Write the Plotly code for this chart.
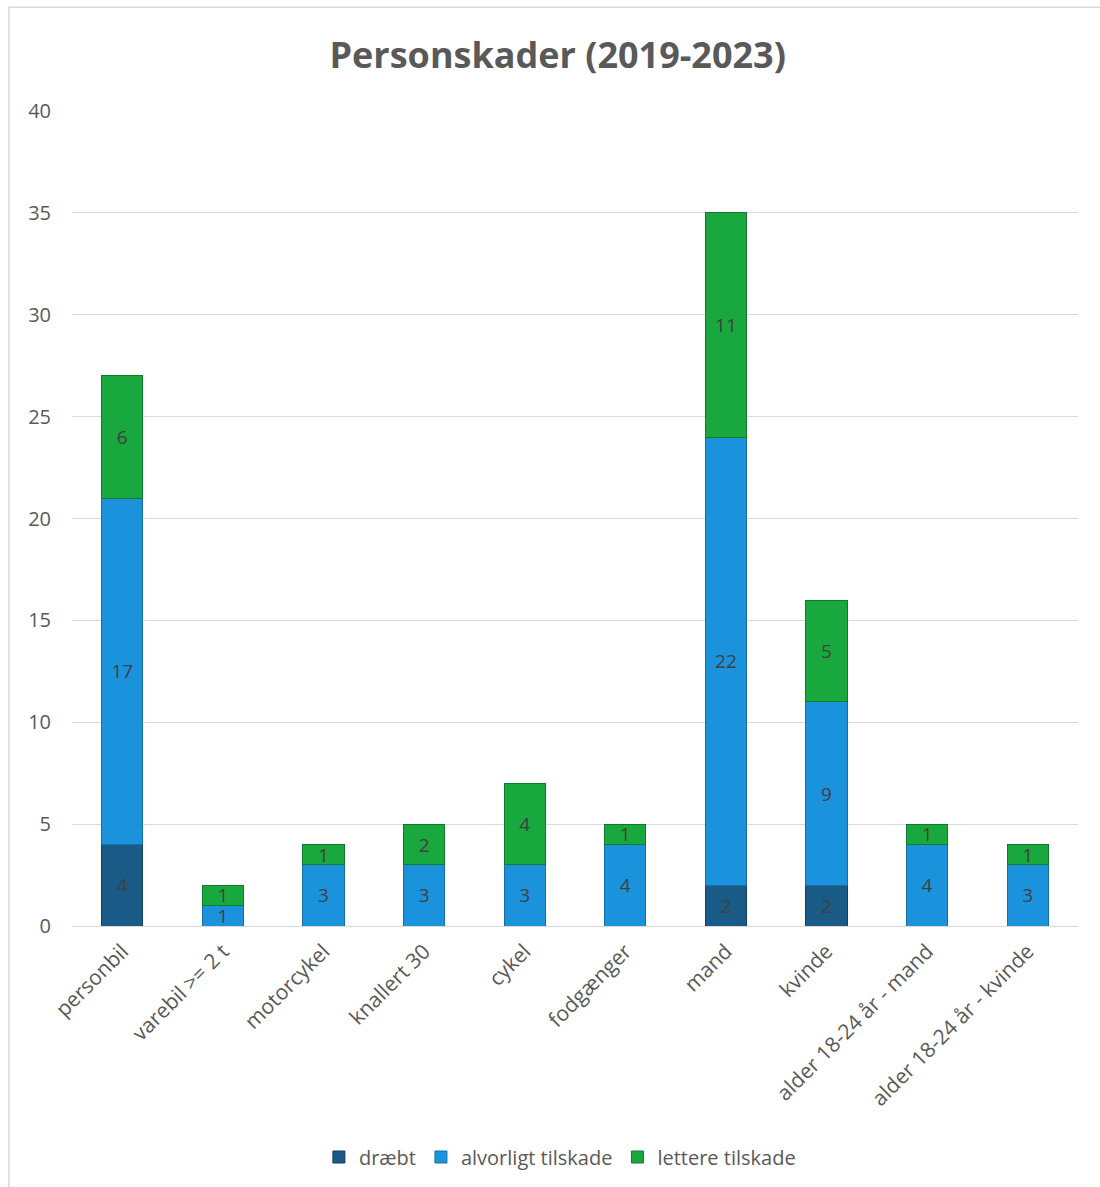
import plotly.graph_objects as go

categories = ["personbil", "varebil >= 2 t", "motorcykel", "knallert 30", "cykel",
              "fodgænger", "mand", "kvinde", "alder 18-24 år - mand", "alder 18-24 år - kvinde"]
draebt = [4, 0, 0, 0, 0, 0, 2, 2, 0, 0]
alvorligt = [17, 1, 3, 3, 3, 4, 22, 9, 4, 3]
lettere = [6, 1, 1, 2, 4, 1, 11, 5, 1, 1]
y_ticks = [0, 5, 10, 15, 20, 25, 30, 35, 40]

FONT = "'Open Sans', sans-serif"
series = [
    ("dræbt", draebt, "#1A5A87", "#123F5E"),
    ("alvorligt tilskade", alvorligt, "#1A93DC", "#156FA6"),
    ("lettere tilskade", lettere, "#18A83E", "#107A2C"),
]

fig = go.Figure()
for name, vals, col, edge in series:
    fig.add_trace(go.Bar(
        name=name, x=categories, y=vals,
        marker=dict(color=col, line=dict(color=edge, width=1)),
        text=[str(v) if v else "" for v in vals],
        textposition="inside", insidetextanchor="middle", textangle=0,
        constraintext="none", cliponaxis=False,
        textfont=dict(family=FONT, size=19, color="#404040"),
        hoverinfo="skip",
    ))

# chart border (Excel chart area)
px0, pw = 72, 1006
py0, ph = 927, 816
def xp(px):
    return (px - px0) / pw
def yp(py):
    return (py0 - py) / ph

fig.add_shape(type="rect", xref="paper", yref="paper",
              x0=xp(9), x1=xp(1110), y0=yp(1195), y1=yp(7),
              line=dict(color="#D9D9D9", width=1.5), fillcolor="rgba(0,0,0,0)", layer="below")

fig.add_annotation(text="g       pp", xref="paper", yref="paper", x=xp(6), y=yp(3),
                   xanchor="left", yanchor="bottom", showarrow=False,
                   font=dict(family=FONT, size=22, color="#000000"))

fig.update_layout(
    barmode="stack",
    bargap=0.59,
    width=1100, height=1187,
    margin=dict(l=72, r=22, t=111, b=260),
    paper_bgcolor="white", plot_bgcolor="white",
    title=dict(text="<b>Personskader (2019-2023)</b>", x=0.507, xanchor="center",
               y=1 - 55 / 1187, yanchor="middle",
               font=dict(family=FONT, size=36, color="#595959")),
    font=dict(family=FONT, color="#595959"),
    showlegend=True,
    legend=dict(orientation="h", x=0.485, xanchor="center", y=yp(1157), yanchor="middle",
                font=dict(family=FONT, size=20, color="#595959"),
                traceorder="normal", itemwidth=30),
    xaxis=dict(tickangle=-45, tickfont=dict(family=FONT, size=21, color="#595959"),
               showgrid=False, showline=False, ticks="", ticklabelstandoff=8),
    yaxis=dict(range=[0, 40], tickvals=y_ticks, showgrid=True, gridcolor="#D9D9D9",
               gridwidth=1, zeroline=True, zerolinecolor="#D9D9D9", zerolinewidth=1,
               tickfont=dict(family=FONT, size=20, color="#595959"), ticks="",
               ticklabelstandoff=20),
)

fig.write_html("out.html")
